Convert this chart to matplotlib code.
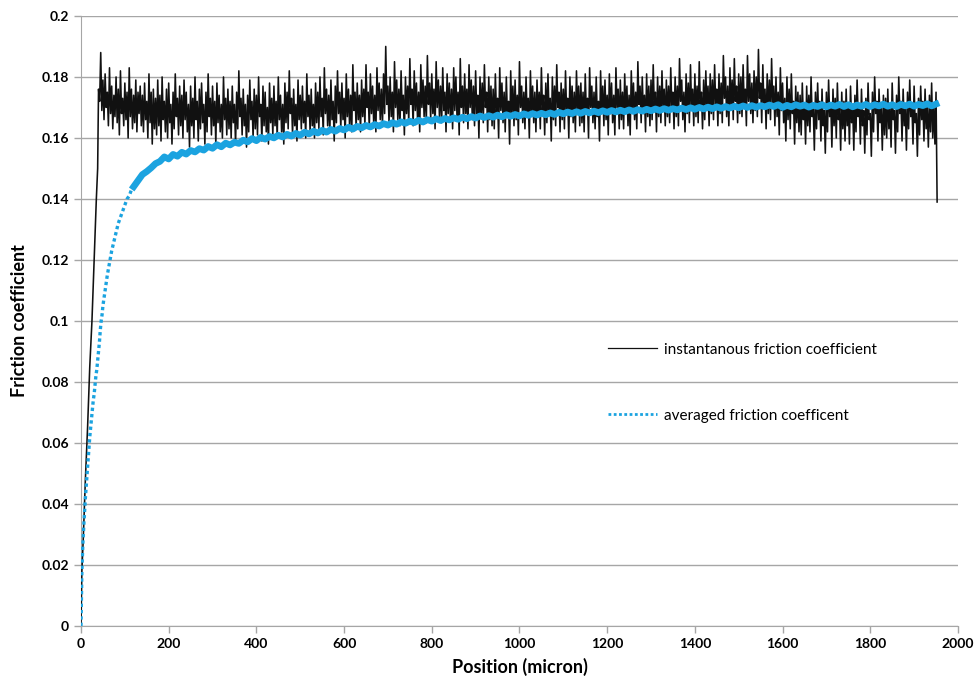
import matplotlib
matplotlib.use("Agg")
import matplotlib.pyplot as plt
import matplotlib.ticker as mticker
import numpy as np

# instantaneous friction coefficient: initial ramp
ramp_x = [0, 2, 5, 10, 15, 20, 25, 30, 35, 38]
ramp_y = [0.0, 0.018, 0.028, 0.048, 0.065, 0.085, 0.100, 0.120, 0.140, 0.150]

# local maxima of the signal, in 1/1000, at 40, 45, 50 ... micron (one row per 100 micron)
peak_rows = [
    [176, 188, 179, 181, 175, 183, 177, 174, 180, 176, 182, 173, 178, 175, 183, 176, 174, 179, 175, 177],
    [174, 178, 172, 181, 175, 176, 173, 179, 174, 180, 172, 176, 178, 171, 175, 181, 173, 177, 174, 179],
    [175, 171, 177, 173, 180, 172, 176, 178, 171, 175, 181, 173, 177, 172, 178, 174, 171, 180, 173, 176],
    [172, 177, 171, 175, 182, 173, 176, 171, 174, 179, 172, 176, 174, 180, 171, 177, 175, 170, 178, 173],
    [177, 172, 180, 174, 171, 178, 175, 182, 173, 176, 171, 179, 174, 177, 172, 181, 174, 176, 171, 178],
    [175, 180, 173, 183, 176, 174, 179, 172, 177, 182, 175, 178, 173, 181, 176, 174, 184, 175, 178, 174],
    [179, 176, 184, 175, 181, 177, 174, 183, 178, 176, 181, 190, 177, 180, 175, 185, 179, 176, 182, 174],
    [180, 177, 186, 176, 182, 178, 175, 184, 179, 177, 187, 178, 181, 176, 185, 179, 177, 183, 175, 181],
    [178, 176, 183, 180, 175, 186, 177, 181, 176, 184, 179, 177, 182, 174, 180, 178, 184, 175, 180, 177],
    [176, 181, 173, 183, 178, 175, 180, 172, 182, 177, 179, 174, 185, 177, 175, 180, 173, 182, 177, 175],
    [179, 175, 183, 174, 178, 181, 173, 180, 177, 184, 175, 178, 176, 182, 173, 180, 177, 175, 182, 177],
    [178, 175, 181, 173, 183, 177, 175, 180, 172, 182, 177, 179, 174, 181, 178, 174, 183, 176, 179, 175],
    [181, 177, 174, 182, 178, 175, 185, 177, 180, 174, 181, 177, 179, 184, 175, 180, 177, 182, 176, 179],
    [177, 183, 175, 180, 177, 186, 179, 175, 181, 178, 184, 176, 181, 177, 185, 175, 179, 182, 177, 181],
    [179, 184, 176, 181, 178, 187, 180, 177, 183, 179, 186, 177, 181, 180, 184, 176, 187, 181, 178, 182],
    [180, 189, 178, 184, 176, 181, 179, 186, 177, 180, 175, 183, 178, 173, 180, 176, 181, 172, 177, 175],
    [174, 178, 171, 177, 174, 180, 170, 175, 178, 172, 176, 169, 175, 179, 171, 176, 173, 178, 170, 175],
    [172, 176, 171, 177, 170, 174, 179, 171, 176, 169, 173, 178, 168, 175, 180, 172, 176, 170, 174, 173],
    [176, 170, 178, 169, 174, 180, 172, 176, 170, 175, 179, 171, 177, 168, 173, 177, 172, 176, 170, 174],
    [178, 171, 175],
]

# local minima of the signal, in 1/1000, at 42.5, 47.5, 52.5 ... micron
trough_rows = [
    [172, 169, 166, 170, 164, 168, 163, 167, 165, 161, 168, 164, 166, 160, 167, 163, 165, 162, 168, 164],
    [162, 166, 160, 165, 158, 163, 161, 164, 159, 166, 162, 160, 165, 158, 163, 167, 161, 164, 160, 166],
    [162, 157, 164, 160, 166, 159, 163, 165, 158, 162, 167, 161, 164, 158, 165, 162, 160, 166, 161, 163],
    [160, 165, 158, 163, 167, 161, 164, 157, 162, 166, 160, 163, 161, 167, 159, 164, 162, 158, 165, 161],
    [164, 160, 166, 162, 158, 165, 163, 168, 161, 164, 159, 166, 163, 165, 160, 167, 162, 164, 160, 165],
    [163, 167, 161, 168, 164, 162, 166, 159, 165, 168, 163, 166, 160, 167, 164, 162, 169, 163, 166, 162],
    [167, 164, 170, 163, 168, 165, 162, 169, 166, 164, 168, 171, 165, 167, 162, 170, 166, 164, 169, 161],
    [168, 165, 171, 164, 169, 166, 162, 170, 167, 165, 171, 166, 168, 163, 170, 167, 165, 169, 162, 168],
    [166, 163, 169, 167, 161, 170, 165, 168, 163, 170, 166, 164, 168, 160, 167, 165, 170, 162, 166, 164],
    [163, 168, 160, 169, 165, 162, 167, 158, 168, 164, 166, 161, 170, 165, 163, 167, 160, 168, 165, 162],
    [167, 163, 169, 161, 165, 168, 159, 166, 164, 170, 162, 166, 163, 168, 160, 167, 165, 162, 169, 164],
    [165, 162, 168, 160, 170, 165, 163, 167, 159, 169, 164, 166, 161, 168, 165, 161, 170, 163, 166, 163],
    [168, 164, 161, 169, 166, 163, 171, 165, 168, 162, 167, 164, 166, 170, 162, 167, 165, 169, 164, 167],
    [165, 170, 163, 167, 164, 172, 166, 162, 168, 165, 170, 164, 167, 165, 171, 163, 166, 169, 164, 168],
    [166, 171, 164, 168, 165, 173, 167, 164, 170, 166, 172, 165, 168, 167, 171, 164, 172, 168, 165, 169],
    [167, 173, 165, 170, 163, 168, 166, 171, 164, 167, 161, 169, 165, 159, 166, 163, 168, 158, 165, 162],
    [161, 166, 158, 164, 162, 167, 156, 163, 166, 159, 164, 155, 162, 167, 157, 164, 160, 166, 156, 163],
    [159, 164, 158, 165, 156, 162, 167, 158, 164, 155, 161, 166, 154, 162, 168, 159, 165, 156, 161, 160],
    [163, 157, 166, 155, 162, 168, 159, 164, 156, 163, 167, 158, 165, 154, 161, 166, 159, 163, 157, 162],
    [160, 158, 139],
]

# averaged friction coefficient: fine steps at the start, then 10 micron steps
avg_start_x = [0, 2, 4, 6, 8, 10, 12, 14, 16, 18, 20, 22, 24, 26, 28, 30, 32, 34, 36, 38,
               40, 42, 44, 46, 48, 50, 55, 60, 65, 70, 75, 80, 85, 90, 95, 100, 105, 110,
               115, 120, 125, 130, 140, 150]
avg_start_y = [0.0, 0.018, 0.026, 0.032, 0.037, 0.042, 0.046, 0.050, 0.054, 0.058, 0.062,
               0.065, 0.068, 0.071, 0.074, 0.076, 0.079, 0.082, 0.084, 0.087, 0.090, 0.093,
               0.097, 0.100, 0.102, 0.105, 0.110, 0.115, 0.119, 0.123, 0.126, 0.129, 0.132,
               0.134, 0.136, 0.138, 0.140, 0.141, 0.143, 0.144, 0.145, 0.146, 0.148, 0.149]

# values in 1/1000 from 160 micron, one row per 100 micron
avg_rows = [
    [150.2, 151.6, 152.3, 153.8, 153.1, 154.6, 154.0, 155.3, 154.7, 155.9],
    [155.4, 156.5, 156.0, 157.2, 156.6, 157.8, 157.1, 158.3, 157.7, 158.6],
    [158.2, 159.3, 158.7, 159.8, 159.1, 160.2, 159.6, 160.5, 160.0, 160.9],
    [160.3, 161.2, 160.6, 161.5, 160.9, 161.9, 161.3, 162.2, 161.6, 162.5],
    [161.9, 162.8, 162.2, 163.1, 162.6, 163.5, 162.9, 163.8, 163.3, 164.1],
    [163.6, 164.4, 163.9, 164.7, 164.2, 165.0, 164.5, 165.3, 164.8, 165.5],
    [165.0, 165.8, 165.2, 166.0, 165.5, 166.3, 165.7, 166.4, 165.9, 166.6],
    [166.1, 166.8, 166.3, 167.0, 166.5, 167.2, 166.7, 167.3, 166.8, 167.5],
    [166.9, 167.6, 167.1, 167.7, 167.2, 167.9, 167.4, 168.0, 167.5, 168.1],
    [167.6, 168.2, 167.7, 168.4, 167.9, 168.5, 168.0, 168.6, 168.1, 168.7],
    [168.2, 168.8, 168.3, 168.9, 168.4, 169.0, 168.5, 169.1, 168.6, 169.2],
    [168.7, 169.3, 168.8, 169.4, 168.9, 169.5, 169.0, 169.6, 169.1, 169.6],
    [169.2, 169.8, 169.3, 169.9, 169.4, 170.0, 169.5, 170.1, 169.6, 170.2],
    [169.7, 170.3, 169.8, 170.4, 169.9, 170.5, 170.0, 170.6, 170.1, 170.6],
    [170.2, 170.8, 170.3, 170.9, 170.0, 170.7, 170.2, 170.9, 170.4, 170.8],
    [170.1, 170.7, 170.3, 170.9, 170.2, 170.8, 170.4, 171.0, 170.3, 170.9],
    [170.2, 170.8, 170.4, 171.0, 170.3, 170.9, 170.5, 171.1, 170.4, 170.9],
    [170.3, 171.0, 170.5, 171.1, 170.4, 171.0, 170.6, 171.2, 170.5, 171.1],
]

x_ticks = [0, 200, 400, 600, 800, 1000, 1200, 1400, 1600, 1800, 2000]
y_ticks = [0, 0.02, 0.04, 0.06, 0.08, 0.1, 0.12, 0.14, 0.16, 0.18, 0.2]

# merge maxima and minima into one signal ordered by position
peak_y = np.concatenate([np.array(r, dtype=float) for r in peak_rows]) / 1000
trough_y = np.concatenate([np.array(r, dtype=float) for r in trough_rows]) / 1000
peak_x = 40 + 5 * np.arange(len(peak_y))
trough_x = 42.5 + 5 * np.arange(len(trough_y))
tail_x = np.concatenate([peak_x, trough_x])
tail_y = np.concatenate([peak_y, trough_y])
order = np.argsort(tail_x)
inst_x = np.concatenate([ramp_x, tail_x[order]])
inst_y = np.concatenate([ramp_y, tail_y[order]])

avg_tail = np.concatenate([np.array(r) for r in avg_rows]) / 1000
avg_x = np.concatenate([avg_start_x, 160 + 10 * np.arange(len(avg_tail))])
avg_y = np.concatenate([avg_start_y, avg_tail])

plt.rcParams['font.family'] = ['Lato', 'DejaVu Sans']

fig = plt.figure(figsize=(9.77, 6.9), dpi=100)
ax = fig.add_axes([0.0829, 0.0928, 0.8976, 0.8841])

ax.plot(inst_x, inst_y, color="#111111", lw=1.15, label="instantanous friction coefficient", zorder=3)
blue = "#1ba3e0"
ax.plot(avg_x, avg_y, color=blue, lw=2.4, linestyle=(0, (1, 0.9)),
        label="averaged friction coefficent", zorder=4)
# the flat part of the averaged curve shows as a solid band
flat = avg_x >= 120
ax.plot(avg_x[flat], avg_y[flat], color=blue, lw=4.8, zorder=4)

ax.set_xlim(0, 2000)
ax.set_ylim(0, 0.2)
ax.set_xticks(x_ticks)
ax.set_yticks(y_ticks)
ax.yaxis.set_major_formatter(mticker.FuncFormatter(lambda v, p: "%g" % v))

ax.grid(True, axis="y", color="#a6a6a6", lw=1.0)
ax.set_axisbelow(True)
for s in ["top", "right"]:
    ax.spines[s].set_visible(False)
for s in ["left", "bottom"]:
    ax.spines[s].set_color("#a6a6a6")
ax.tick_params(axis="both", colors="#a6a6a6", length=5, width=1, labelcolor="black",
               labelsize=10)
for lab in ax.get_xticklabels() + ax.get_yticklabels():
    lab.set_fontweight("bold")

ax.set_xlabel("Position (micron)", fontsize=13, fontweight="bold", labelpad=6)
ax.set_ylabel("Friction coefficient", fontsize=13, fontweight="bold", labelpad=10)

leg = ax.legend(loc="upper left", bbox_to_anchor=(0.585, 0.487), frameon=False,
                fontsize=11, handlelength=3.2, handletextpad=0.5, labelspacing=3.4)
leg.get_lines()[0].set_linewidth(0.9)
leg.get_lines()[1].set_linewidth(2.0)

fig.savefig("out.png", dpi=100)
